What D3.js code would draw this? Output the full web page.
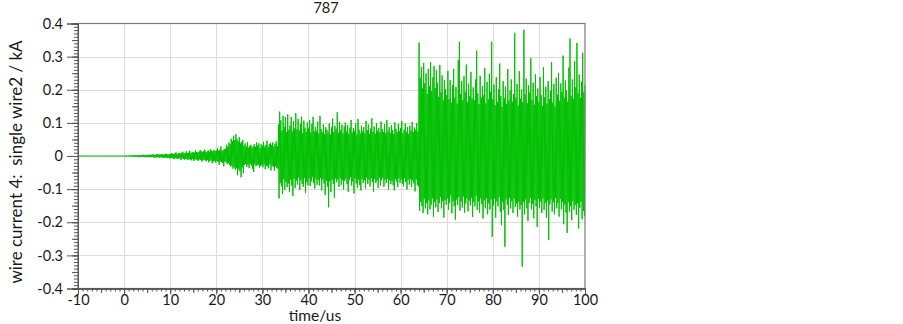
<!DOCTYPE html>
<html>
<head>
<meta charset="utf-8">
<script src="https://cdn.jsdelivr.net/npm/d3@7"></script>
<style>
  body { margin: 0; background: white; }
  text { font-family: Lato, "Open Sans", sans-serif; fill: #1a1a1a; }
</style>
</head>
<body>
<div id="chart"></div>
<script>
// Diagrammets data
const title = "787";
const xLabel = "time/us";
const yLabel = "wire current 4:  single wire2 / kA";
const xTicks = [-10, 0, 10, 20, 30, 40, 50, 60, 70, 80, 90, 100];
const yTicks = [-0.4, -0.3, -0.2, -0.1, 0, 0.1, 0.2, 0.3, 0.4];

// Signalen före triggern är platt
const leadIn = [[-10, 0], [0, 0]];
const sampleStart = 0;    // us
const sampleStep = 0.125; // us
// Avläst ström i kA, ett värde per 0.125 us från 0 till 100 us (en rad = 2 us)
const current = [
  0.001,-0.001,0.001,-0.002,0.002,-0.001,0.001,-0.001,0.002,-0.002,0.001,-0.002,0.002,-0.001,0.002,-0.002,
  0.002,-0.002,0.003,-0.002,0.002,-0.003,0.002,-0.002,0.003,-0.002,0.003,-0.003,0.002,-0.003,0.003,-0.002,
  0.003,-0.003,0.004,-0.002,0.003,-0.004,0.003,-0.003,0.004,-0.003,0.003,-0.004,0.004,-0.003,0.003,-0.004,
  0.004,-0.003,0.005,-0.004,0.004,-0.005,0.003,-0.004,0.005,-0.004,0.006,-0.004,0.004,-0.005,0.005,-0.004,
  0.005,-0.004,0.006,-0.005,0.004,-0.006,0.005,-0.005,0.007,-0.005,0.005,-0.006,0.006,-0.005,0.005,-0.007,
  0.006,-0.007,0.009,-0.006,0.007,-0.008,0.006,-0.010,0.008,-0.006,0.011,-0.007,0.006,-0.009,0.008,-0.007,
  0.009,-0.008,0.007,-0.012,0.010,-0.007,0.013,-0.009,0.008,-0.011,0.009,-0.008,0.014,-0.010,0.008,-0.012,
  0.010,-0.009,0.016,-0.011,0.009,-0.013,0.011,-0.009,0.012,-0.015,0.010,-0.011,0.017,-0.010,0.012,-0.013,
  0.011,-0.014,0.013,-0.010,0.018,-0.012,0.014,-0.017,0.011,-0.013,0.015,-0.011,0.019,-0.014,0.012,-0.016,
  0.014,-0.012,0.017,-0.019,0.013,-0.015,0.021,-0.013,0.016,-0.022,0.014,-0.016,0.018,-0.014,0.015,-0.020,
  0.017,-0.015,0.024,-0.018,0.016,-0.027,0.019,-0.016,0.029,-0.018,0.015,-0.021,0.018,-0.031,0.020,-0.017,
  0.022,-0.019,0.034,-0.024,0.028,-0.021,0.041,-0.027,0.036,-0.032,0.052,-0.029,0.045,-0.038,0.061,-0.034,
  0.048,-0.041,0.066,-0.036,0.052,-0.058,0.044,-0.039,0.057,-0.046,0.038,-0.064,0.042,-0.035,0.049,-0.052,
  0.031,-0.027,0.038,-0.024,0.028,-0.033,0.042,-0.026,0.025,-0.036,0.030,-0.023,0.034,-0.029,0.026,-0.039,
  0.029,-0.048,0.036,-0.025,0.027,-0.031,0.041,-0.028,0.032,-0.026,0.038,-0.035,0.024,-0.030,0.035,-0.027,
  0.031,-0.034,0.043,-0.026,0.028,-0.040,0.033,-0.029,0.046,-0.031,0.027,-0.037,0.036,-0.025,0.040,-0.044,
  0.034,-0.029,0.041,-0.033,0.028,-0.045,0.037,-0.031,0.044,-0.036,0.030,-0.038,0.095,-0.128,0.134,-0.082,
  0.108,-0.091,0.076,-0.115,0.121,-0.069,0.088,-0.102,0.117,-0.078,0.072,-0.094,0.126,-0.083,0.079,-0.108,
  0.092,-0.071,0.118,-0.089,0.074,-0.121,0.105,-0.068,0.083,-0.097,0.129,-0.074,0.081,-0.086,0.112,-0.065,
  0.077,-0.103,0.098,-0.072,0.119,-0.084,0.069,-0.093,0.107,-0.066,0.085,-0.112,0.073,-0.079,0.101,-0.088,
  0.083,-0.068,0.109,-0.091,0.071,-0.077,0.097,-0.064,0.118,-0.082,0.074,-0.098,0.088,-0.069,0.076,-0.087,
  0.104,-0.073,0.068,-0.089,0.121,-0.066,0.081,-0.104,0.072,-0.071,0.095,-0.083,0.066,-0.118,0.087,-0.074,
  0.079,-0.092,0.071,-0.155,0.098,-0.076,0.065,-0.109,0.086,-0.071,0.113,-0.084,0.072,-0.126,0.091,-0.068,
  0.082,-0.079,0.132,-0.071,0.069,-0.094,0.103,-0.066,0.077,-0.087,0.094,-0.072,0.068,-0.101,0.089,-0.075,
  0.101,-0.069,0.074,-0.085,0.093,-0.108,0.067,-0.072,0.086,-0.064,0.109,-0.089,0.071,-0.077,0.084,-0.113,
  0.076,-0.067,0.098,-0.083,0.065,-0.096,0.112,-0.071,0.079,-0.088,0.068,-0.104,0.091,-0.069,0.074,-0.082,
  0.087,-0.073,0.069,-0.098,0.106,-0.065,0.078,-0.084,0.095,-0.071,0.066,-0.092,0.083,-0.067,0.114,-0.079,
  0.072,-0.108,0.089,-0.069,0.067,-0.081,0.099,-0.074,0.076,-0.097,0.085,-0.066,0.071,-0.089,0.104,-0.072,
  0.081,-0.066,0.073,-0.093,0.096,-0.071,0.068,-0.082,0.109,-0.068,0.074,-0.101,0.087,-0.073,0.069,-0.085,
  0.093,-0.075,0.078,-0.088,0.066,-0.104,0.101,-0.069,0.082,-0.077,0.071,-0.094,0.097,-0.068,0.075,-0.081,
  0.085,-0.071,0.106,-0.084,0.069,-0.092,0.079,-0.067,0.098,-0.079,0.073,-0.101,0.088,-0.072,0.067,-0.086,
  0.091,-0.069,0.076,-0.094,0.103,-0.074,0.072,-0.083,0.086,-0.107,0.079,-0.071,0.099,-0.088,0.074,-0.092,
  0.342,-0.165,0.236,-0.138,0.268,-0.151,0.204,-0.172,0.281,-0.129,0.219,-0.158,0.249,-0.142,0.187,-0.176,
  0.263,-0.134,0.211,-0.161,0.284,-0.147,0.196,-0.128,0.238,-0.183,0.272,-0.139,0.205,-0.155,0.259,-0.131,
  0.221,-0.169,0.178,-0.142,0.275,-0.124,0.192,-0.158,0.243,-0.137,0.168,-0.186,0.228,-0.133,0.201,-0.147,
  0.184,-0.128,0.257,-0.162,0.171,-0.141,0.229,-0.119,0.161,-0.173,0.214,-0.136,0.263,-0.151,0.176,-0.192,
  0.208,-0.131,0.158,-0.148,0.289,-0.124,0.345,-0.165,0.187,-0.138,0.226,-0.156,0.169,-0.122,0.241,-0.171,
  0.193,-0.143,0.276,-0.128,0.162,-0.167,0.218,-0.135,0.181,-0.149,0.254,-0.126,0.173,-0.184,0.207,-0.139,
  0.168,-0.152,0.231,-0.121,0.318,-0.163,0.189,-0.137,0.157,-0.171,0.242,-0.128,0.176,-0.146,0.211,-0.189,
  0.183,-0.134,0.266,-0.158,0.159,-0.127,0.224,-0.176,0.171,-0.143,0.248,-0.162,0.194,-0.131,0.345,-0.244,
  0.172,-0.149,0.216,-0.128,0.154,-0.186,0.238,-0.137,0.163,-0.152,0.201,-0.124,0.279,-0.168,0.181,-0.209,
  0.148,-0.139,0.226,-0.163,0.174,-0.274,0.209,-0.131,0.156,-0.147,0.262,-0.178,0.167,-0.126,0.198,-0.158,
  0.231,-0.136,0.164,-0.172,0.187,-0.129,0.372,-0.154,0.176,-0.143,0.218,-0.183,0.152,-0.138,0.256,-0.161,
  0.173,-0.148,0.201,-0.334,0.162,-0.139,0.381,-0.176,0.186,-0.131,0.234,-0.158,0.159,-0.196,0.213,-0.142,
  0.192,-0.127,0.295,-0.161,0.168,-0.144,0.221,-0.188,0.155,-0.133,0.247,-0.152,0.181,-0.214,0.204,-0.129,
  0.163,-0.156,0.238,-0.137,0.184,-0.172,0.151,-0.128,0.268,-0.163,0.177,-0.141,0.209,-0.186,0.158,-0.134,
  0.226,-0.254,0.172,-0.146,0.197,-0.131,0.284,-0.168,0.161,-0.139,0.218,-0.176,0.149,-0.127,0.236,-0.158,
  0.185,-0.142,0.251,-0.183,0.167,-0.129,0.219,-0.161,0.193,-0.138,0.303,-0.206,0.176,-0.147,0.228,-0.171,
  0.198,-0.232,0.164,-0.139,0.267,-0.168,0.355,-0.151,0.182,-0.194,0.231,-0.136,0.173,-0.162,0.286,-0.148,
  0.207,-0.178,0.341,-0.143,0.189,-0.219,0.246,-0.157,0.176,-0.138,0.224,-0.191,0.312,-0.166,0.193,-0.182,
  0.215
];

const width = 903, height = 324;
const margin = { top: 23.5, right: 318, bottom: 35.5, left: 78 };

const svg = d3.select("#chart").append("svg")
  .attr("width", width)
  .attr("height", height);

const x = d3.scaleLinear([-10, 100], [margin.left, width - margin.right]);
const y = d3.scaleLinear([-0.4, 0.4], [height - margin.bottom, margin.top]);

// Rutnät
svg.append("g")
  .selectAll("line")
  .data(xTicks.slice(1, -1))
  .join("line")
  .attr("x1", d => Math.round(x(d)) + 0.5).attr("x2", d => Math.round(x(d)) + 0.5)
  .attr("y1", y(0.4)).attr("y2", y(-0.4))
  .attr("stroke", "#dcdcdc");

svg.append("g")
  .selectAll("line")
  .data(yTicks.slice(1, -1))
  .join("line")
  .attr("x1", x(-10)).attr("x2", x(100))
  .attr("y1", d => Math.round(y(d)) + 0.5).attr("y2", d => Math.round(y(d)) + 0.5)
  .attr("stroke", "#dcdcdc");

// Signalen
const points = leadIn.concat(current.map((v, i) => [sampleStart + i * sampleStep, v]));

svg.append("path")
  .datum(points)
  .attr("fill", "none")
  .attr("stroke", "#00c000")
  .attr("stroke-width", 1)
  .attr("d", d3.line().x(d => x(d[0])).y(d => y(d[1])));

// Ram (topp och höger)
svg.append("rect")
  .attr("x", x(-10)).attr("y", y(0.4))
  .attr("width", x(100) - x(-10)).attr("height", y(-0.4) - y(0.4))
  .attr("fill", "none")
  .attr("stroke", "#7a7a7a")
  .attr("stroke-width", 1.2);

// Små ticks
const minorX = d3.range(-10, 100.5, 1);
const minorY = d3.range(-40, 40.5, 1).map(d => d / 100);

function tickAxis(axis, values, size) {
  return axis.tickValues(values).tickSize(size).tickFormat("");
}

const xAxisG = svg.append("g").attr("transform", `translate(0,${y(-0.4)})`);
xAxisG.append("g").call(tickAxis(d3.axisBottom(x), minorX, 3));
xAxisG.append("g").call(tickAxis(d3.axisBottom(x), minorX.filter(d => d % 5 === 0), 4.5));
xAxisG.append("g").call(d3.axisBottom(x).tickValues(xTicks).tickSize(6).tickFormat(d => String(d)));

const yAxisG = svg.append("g").attr("transform", `translate(${x(-10)},0)`);
yAxisG.append("g").call(tickAxis(d3.axisLeft(y), minorY, 4));
yAxisG.append("g").call(tickAxis(d3.axisLeft(y), minorY.filter(d => Math.round(d * 100) % 5 === 0), 6));
yAxisG.append("g").call(d3.axisLeft(y).tickValues(yTicks).tickSize(11).tickFormat(d => d === 0 ? "0" : d.toFixed(1)));

svg.selectAll(".domain, .tick line").attr("stroke", "#555");
svg.selectAll(".tick text")
  .attr("font-size", 14.5)
  .attr("fill", "#1a1a1a")
  .style("font-family", "Lato, 'Open Sans', sans-serif");
yAxisG.selectAll(".tick text").attr("x", -15);
xAxisG.selectAll(".tick text").attr("y", 6);

// Titel och axeltitlar
svg.append("text")
  .attr("x", 326).attr("y", 13)
  .attr("text-anchor", "middle")
  .attr("font-size", 14.5)
  .text(title);

svg.append("text")
  .attr("x", 315).attr("y", 321)
  .attr("text-anchor", "middle")
  .attr("font-size", 15.5)
  .text(xLabel);

svg.append("text")
  .attr("transform", `translate(22,162) rotate(-90)`)
  .attr("text-anchor", "middle")
  .attr("font-size", 17)
  .style("white-space", "pre")
  .text(yLabel);
</script>
</body>
</html>
